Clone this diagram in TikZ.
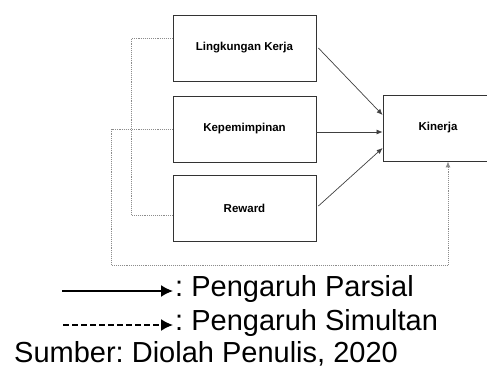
\documentclass[tikz,border=0pt]{standalone}
\usepackage{fontspec}
\setmainfont{Liberation Sans}
\frenchspacing
\usepackage{tikz}
\usetikzlibrary{arrows,arrows.meta}
\usepackage{xcolor}
\tikzstyle{var}=[draw=black!80, line width=0.8pt, minimum width=143pt, minimum height=66pt, font=\fontsize{11.5}{14}\selectfont\bfseries]
\tikzstyle{parsial}=[draw=black!75, line width=0.7pt, -{Latex[length=6pt,width=5pt]}]
\tikzstyle{simul}=[draw=black!45, line width=0.9pt, densely dotted]
\tikzstyle{ket}=[inner sep=0pt, font=\fontsize{29}{34}\selectfont]

\begin{document}
\begin{tikzpicture}[x=1pt,y=1pt]
        \useasboundingbox (0,0) rectangle (487,367);
        \node [var] (lk)  at (244.5,319) {Lingkungan Kerja};
        \node [var] (kp)  at (244.5,238) {Kepemimpinan};
        \node [var] (rw)  at (244.5,159) {Reward};
        \node [var,minimum width=110pt] (kin) at (438,239) {Kinerja};

        \path[parsial] ([xshift=2pt]lk.east) -- ([yshift=13pt]kin.west);
        \path[parsial] ([yshift=-3pt]kp.east) -- ([yshift=-4pt]kin.west);
        \path[parsial] ([xshift=2pt,yshift=2pt]rw.east) -- ([yshift=-20pt]kin.west);

        \draw[simul] ([yshift=10pt]lk.west) -- ++(-41pt,0) |- ([yshift=-7pt]rw.west);
        \draw[simul,-{Latex[length=6pt,width=5pt]}] (kp.west) -- ++(-61pt,0) -- ++(0,-136pt) -| ([xshift=10pt]kin.south);

        % keterangan
        \coordinate (p0) at (62,76);
        \coordinate (s0) at (63,42);
        \node [ket,anchor=base west] (ptxt) at (175,71) {: Pengaruh Parsial};
        \node [ket,anchor=base west] (stxt) at (175,37) {: Pengaruh Simultan};
        \node [ket,anchor=base west] (src) at (14,5) {Sumber: Diolah Penulis, 2020};
        \draw[line width=1.6pt,-{Latex[length=12pt,width=12pt]}] (p0) -- ([xshift=-2pt]p0 -| ptxt.west);
        \draw[line width=1.6pt,dash pattern=on 6pt off 3pt,-{Latex[length=12pt,width=12pt]}] (s0) -- ([xshift=-2pt]s0 -| stxt.west);
\end{tikzpicture}
\end{document}
